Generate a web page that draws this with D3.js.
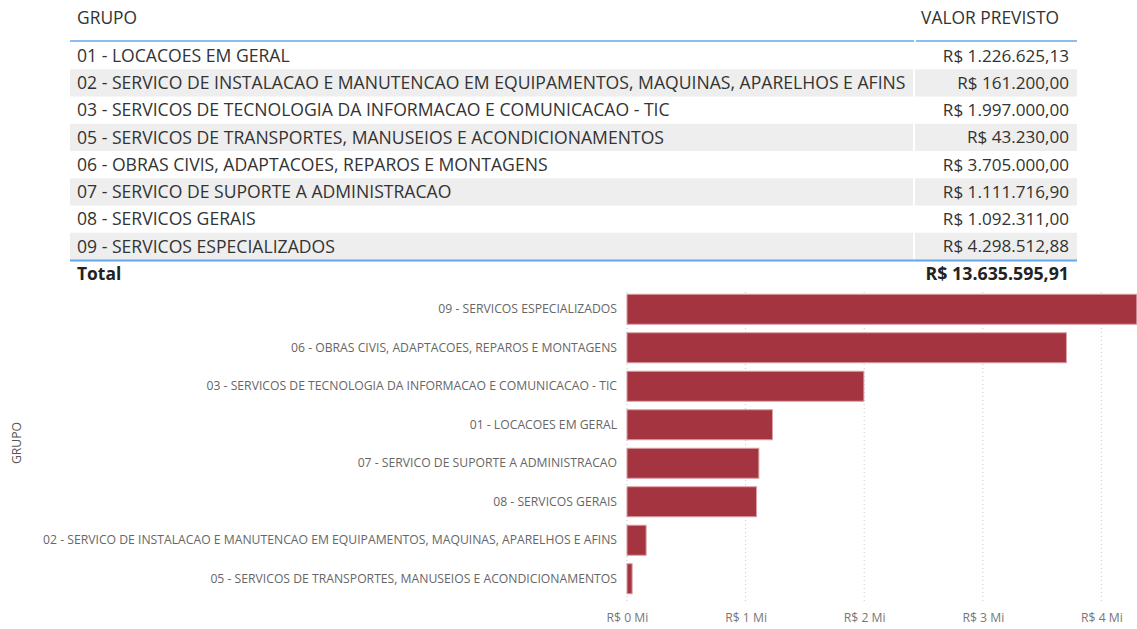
<!DOCTYPE html>
<html lang="pt">
<head>
    <meta charset="UTF-8">
    <title>Valor previsto por grupo</title>
    <script src="https://d3js.org/d3.v7.min.js"></script>
    <style>
        body { margin: 0; background: #fff; }
        svg { display: block; font-family: "Segoe UI", "Open Sans", sans-serif; }
    </style>
</head>
<body>
    <svg width="1137" height="629"></svg>

    <script>
        // data
        const grupos = [
            "01 - LOCACOES EM GERAL",
            "02 - SERVICO DE INSTALACAO E MANUTENCAO EM EQUIPAMENTOS, MAQUINAS, APARELHOS E AFINS",
            "03 - SERVICOS DE TECNOLOGIA DA INFORMACAO E COMUNICACAO - TIC",
            "05 - SERVICOS DE TRANSPORTES, MANUSEIOS E ACONDICIONAMENTOS",
            "06 - OBRAS CIVIS, ADAPTACOES, REPAROS E MONTAGENS",
            "07 - SERVICO DE SUPORTE A ADMINISTRACAO",
            "08 - SERVICOS GERAIS",
            "09 - SERVICOS ESPECIALIZADOS"
        ];
        const valores = [1226625.13, 161200.00, 1997000.00, 43230.00, 3705000.00, 1111716.90, 1092311.00, 4298512.88];
        const ticksMi = [0, 1, 2, 3, 4];

        const svg = d3.select("svg");

        // money format R$ 1.234,56
        const brl = d3.formatLocale({
            decimal: ",", thousands: ".", grouping: [3], currency: ["R$ ", ""]
        });
        const fmtMoney = brl.format("$,.2f");

        const tableFont = 17.4;
        const chartFont = 12.2;

        // ---------- table ----------
        const tLeft = 70, tRight = 1077, colSplit = 914;
        const rowScale = d3.scaleBand()
            .domain(d3.range(grupos.length))
            .range([42, 260]);

        const table = svg.append("g").attr("class", "table");

        // header
        table.append("text")
            .attr("x", 77).attr("y", 18)
            .attr("dy", "0.35em")
            .attr("font-size", tableFont)
            .attr("fill", "#333")
            .text("GRUPO");
        table.append("text")
            .attr("x", 1059).attr("y", 18)
            .attr("dy", "0.35em")
            .attr("text-anchor", "end")
            .attr("font-size", tableFont)
            .attr("fill", "#333")
            .text("VALOR PREVISTO");

        const rows = table.selectAll("g.row")
            .data(grupos.map((g, i) => ({ grupo: g, valor: valores[i], i: i })))
            .join("g")
            .attr("class", "row");

        rows.filter(d => d.i % 2 === 1)
            .append("rect")
            .attr("x", tLeft)
            .attr("y", d => rowScale(d.i))
            .attr("width", tRight - tLeft)
            .attr("height", rowScale.bandwidth())
            .attr("fill", "#eeeeee");

        rows.append("text")
            .attr("x", 77)
            .attr("y", d => rowScale(d.i) + rowScale.bandwidth() / 2)
            .attr("dy", "0.35em")
            .attr("font-size", 17.6)
            .attr("fill", "#333")
            .text(d => d.grupo);

        rows.append("text")
            .attr("x", 1069)
            .attr("y", d => rowScale(d.i) + rowScale.bandwidth() / 2)
            .attr("dy", "0.35em")
            .attr("text-anchor", "end")
            .attr("font-size", 17.1)
            .attr("fill", "#333")
            .text(d => fmtMoney(d.valor));

        // column divider
        table.append("line")
            .attr("x1", colSplit).attr("x2", colSplit)
            .attr("y1", 40).attr("y2", 260)
            .attr("stroke", "#fff")
            .attr("stroke-width", 2);

        // header and total lines
        table.append("line")
            .attr("x1", tLeft).attr("x2", tRight)
            .attr("y1", 41).attr("y2", 41)
            .attr("stroke", "#62a8ea")
            .attr("stroke-width", 1.5);
        table.append("line")
            .attr("x1", colSplit).attr("x2", colSplit + 2)
            .attr("y1", 41).attr("y2", 41)
            .attr("stroke", "#fff")
            .attr("stroke-width", 2);
        table.append("line")
            .attr("x1", tLeft).attr("x2", tRight)
            .attr("y1", 260.5).attr("y2", 260.5)
            .attr("stroke", "#62a8ea")
            .attr("stroke-width", 2);

        // total row
        table.append("text")
            .attr("x", 77).attr("y", 274)
            .attr("dy", "0.35em")
            .attr("font-size", tableFont)
            .attr("font-weight", "bold")
            .attr("fill", "#222")
            .text("Total");
        table.append("text")
            .attr("x", 1069).attr("y", 274)
            .attr("dy", "0.35em")
            .attr("text-anchor", "end")
            .attr("font-size", 17.8)
            .attr("font-weight", "bold")
            .attr("fill", "#222")
            .text(fmtMoney(d3.sum(valores)));

        // ---------- bar chart ----------
        const barData = grupos.map((g, i) => ({ grupo: g, valor: valores[i] }))
            .sort((a, b) => b.valor - a.valor);

        const x = d3.scaleLinear()
            .domain([0, 4.3e6])
            .range([627, 1137]);

        const y = d3.scaleBand()
            .domain(barData.map(d => d.grupo))
            .range([290, 598])
            .paddingInner(0.22)
            .paddingOuter(0.11);

        const chart = svg.append("g").attr("class", "chart");

        // dotted grid lines
        chart.selectAll("line.grid")
            .data(ticksMi)
            .join("line")
            .attr("class", "grid")
            .attr("x1", d => x(d * 1e6)).attr("x2", d => x(d * 1e6))
            .attr("y1", 292).attr("y2", 604)
            .attr("stroke", "#c8c8c8")
            .attr("stroke-width", 1)
            .attr("stroke-dasharray", "1,3");

        // x axis labels
        const xAxis = d3.axisBottom(x)
            .tickValues(ticksMi.map(d => d * 1e6))
            .tickSize(0)
            .tickPadding(0)
            .tickFormat(d => "R$ " + d / 1e6 + " Mi");

        chart.append("g")
            .attr("transform", "translate(0,613)")
            .call(xAxis)
            .call(g => g.select(".domain").remove())
            .call(g => g.selectAll("text")
                .attr("font-size", chartFont)
                .attr("fill", "#777")
                .attr("font-family", "\"Segoe UI\", \"Open Sans\", sans-serif"));

        // bars
        chart.selectAll("rect.bar")
            .data(barData)
            .join("rect")
            .attr("class", "bar")
            .attr("x", x(0))
            .attr("y", d => y(d.grupo))
            .attr("width", d => x(d.valor) - x(0))
            .attr("height", y.bandwidth())
            .attr("fill", "#a4343f")
            .attr("stroke", "#d9a0a6")
            .attr("stroke-width", 1);

        // y axis labels
        const yAxis = d3.axisLeft(y)
            .tickSize(0)
            .tickPadding(10);

        chart.append("g")
            .attr("transform", "translate(627,0)")
            .call(yAxis)
            .call(g => g.select(".domain").remove())
            .call(g => g.selectAll("text")
                .attr("font-size", chartFont)
                .attr("fill", "#666")
                .attr("font-family", "\"Segoe UI\", \"Open Sans\", sans-serif"));

        // y axis title
        svg.append("text")
            .attr("transform", "translate(17,443) rotate(-90)")
            .attr("text-anchor", "middle")
            .attr("dy", "0.35em")
            .attr("font-size", chartFont)
            .attr("fill", "#555")
            .text("GRUPO");
    </script>
</body>
</html>
